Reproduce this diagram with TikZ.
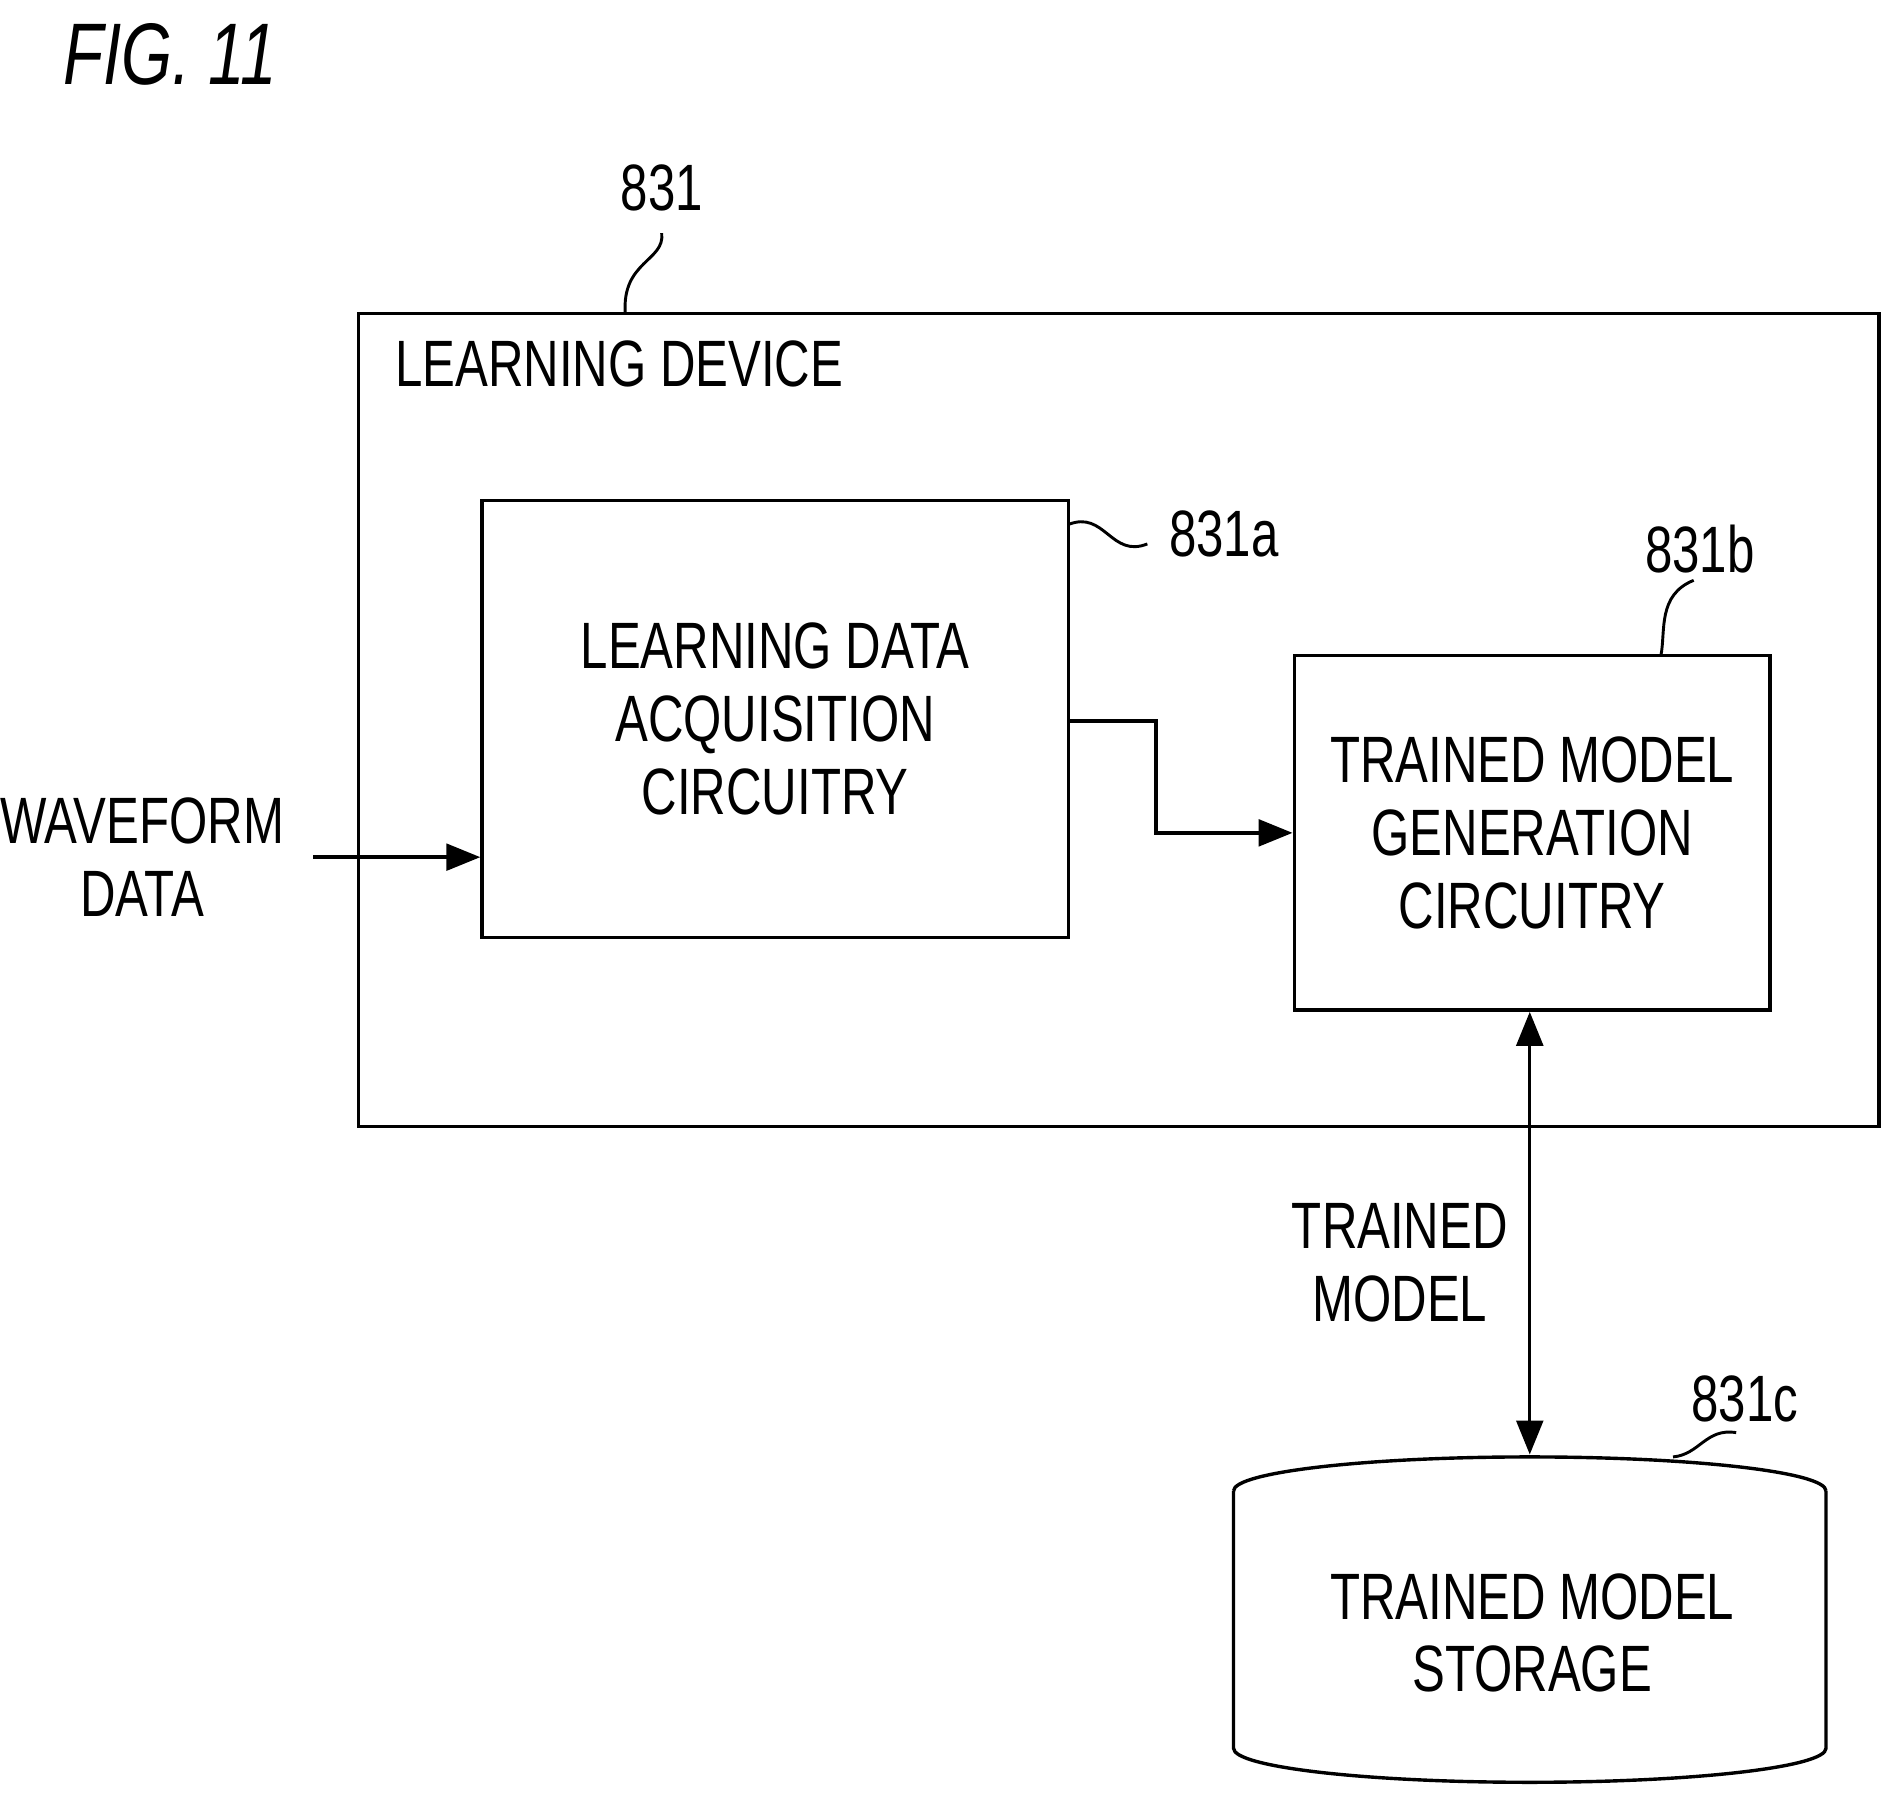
\documentclass[tikz,border=0pt]{standalone}
\usepackage{fontspec}
\setmainfont{Liberation Sans}[FakeStretch=0.75]
\usetikzlibrary{arrows.meta}
\begin{document}
\begin{tikzpicture}[x=0.5pt,y=-0.5pt,
  lbl/.style={font=\fontsize{27}{30}\selectfont,align=center,inner sep=0},
  box/.style={draw,line width=1.4pt},
  arr/.style={line width=1.4pt,-{Triangle[length=14pt,width=11pt]}},
  sq/.style={line width=1.2pt}]
\useasboundingbox (0,0) rectangle (1560,1482);
\node[font=\fontsize{36}{40}\selectfont\itshape,anchor=west] (fig) at (45,45) {FIG. 11};
\node[box,minimum width=626pt,minimum height=335pt] (outer) at (921.5,593) {};
\node[lbl,anchor=west] (ld) at (325,300) {LEARNING DEVICE};
\node[lbl] (n831) at (545,155) {831};
\draw[sq] (545,192) .. controls (548,215) and (512,215) .. (515,258);
\node[box,minimum width=241.5pt,minimum height=180pt,lbl] (a) at (638.5,592) {LEARNING DATA\\ACQUISITION\\CIRCUITRY};
\node[lbl] (n831a) at (1008,440) {831a};
\draw[sq] (880,432) .. controls (910,420) and (915,460) .. (945,448);
\node[box,minimum width=196pt,minimum height=146pt,lbl] (b) at (1262,686) {TRAINED MODEL\\GENERATION\\CIRCUITRY};
\node[lbl] (n831b) at (1400,452) {831b};
\draw[sq] (1395,478) .. controls (1365,490) and (1372,520) .. (1368,540);
\coordinate (am) at (880,594);
\draw[arr] (am) -- (952,594) |- (b.west);
\node[lbl] (wf) at (117,706) {WAVEFORM\\DATA};
\coordinate (ws) at (258,706);
\draw[arr] (ws) -- (a.west |- ws);
% cylinder
\coordinate (ct) at (1260,1198);
\draw[box] (1016,1228) arc[start angle=180,end angle=360,x radius=244,y radius=28] arc[start angle=0,end angle=-180,x radius=244,y radius=28];
\draw[box] (1016,1228) -- (1016,1440) arc[start angle=180,end angle=0,x radius=244,y radius=28] -- (1504,1228);
\node[lbl] (c) at (1262,1345) {TRAINED MODEL\\STORAGE};
\node[lbl] (n831c) at (1437,1152) {831c};
\draw[sq] (1430,1180) .. controls (1405,1176) and (1400,1198) .. (1378,1200);
\draw[arr,{Triangle[length=14pt,width=11pt]}-{Triangle[length=14pt,width=11pt]}] (b.south -| ct) -- (ct);
\node[lbl] (tm) at (1153,1040) {TRAINED\\MODEL};
\end{tikzpicture}
\end{document}
